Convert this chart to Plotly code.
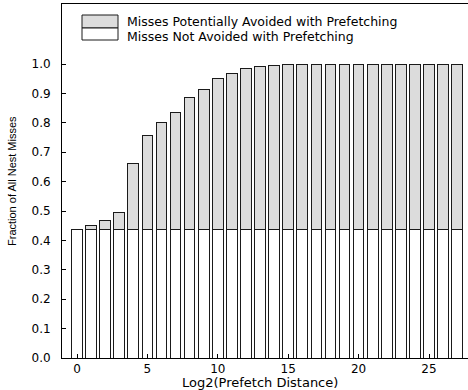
import plotly.graph_objects as go

# ---- data ----
distance = list(range(28))
not_avoided = [0.437, 0.437, 0.437, 0.437, 0.437, 0.437, 0.437, 0.437, 0.437, 0.437,
               0.437, 0.437, 0.437, 0.437, 0.437, 0.437, 0.437, 0.437, 0.437, 0.437,
               0.437, 0.437, 0.437, 0.437, 0.437, 0.437, 0.437, 0.437]
avoided = [0.001, 0.014, 0.031, 0.059, 0.225, 0.320, 0.365, 0.399, 0.450, 0.477,
           0.515, 0.530, 0.548, 0.556, 0.559, 0.561, 0.562, 0.563, 0.563, 0.563,
           0.563, 0.563, 0.563, 0.563, 0.563, 0.563, 0.563, 0.563]
y_ticks = [0.0, 0.1, 0.2, 0.3, 0.4, 0.5, 0.6, 0.7, 0.8, 0.9, 1.0]
x_ticks = [0, 5, 10, 15, 20, 25]
legend_labels = ["Misses Potentially Avoided with Prefetching",
                 "Misses Not Avoided with Prefetching"]

W, H = 468, 390
ML, MR, MT, MB = 62, 0, 4, 32
PW, PH = W - ML - MR, H - MT - MB


def px(x):
    return (x - ML) / PW


def py(y):
    return (H - MB - y) / PH


FONT = "DejaVu Sans, Verdana, Arial, sans-serif"
GRAY = "#dcdcdc"
EDGE = "#1a1a1a"

fig = go.Figure()
fig.add_trace(go.Bar(x=distance, y=not_avoided, name=legend_labels[1],
                     marker=dict(color="white", line=dict(color=EDGE, width=1)),
                     width=0.76, showlegend=False))
fig.add_trace(go.Bar(x=distance, y=avoided, name=legend_labels[0],
                     marker=dict(color=GRAY, line=dict(color=EDGE, width=1)),
                     width=0.76, showlegend=False))

shapes = [
    dict(type="rect", xref="paper", yref="paper", x0=px(82), x1=px(118), y0=py(28), y1=py(15),
         fillcolor=GRAY, line=dict(color=EDGE, width=1)),
    dict(type="rect", xref="paper", yref="paper", x0=px(82), x1=px(118), y0=py(40), y1=py(28),
         fillcolor="white", line=dict(color=EDGE, width=1)),
]
annotations = [
    dict(text=legend_labels[0], xref="paper", yref="paper", x=px(125), y=py(22),
         xanchor="left", yanchor="middle", showarrow=False, font=dict(family=FONT, size=12.5, color="black")),
    dict(text=legend_labels[1], xref="paper", yref="paper", x=px(125), y=py(36.5),
         xanchor="left", yanchor="middle", showarrow=False, font=dict(family=FONT, size=12.5, color="black")),
    dict(text="Fraction of All Nest Misses", xref="paper", yref="paper", x=px(12), y=py(181),
         xanchor="center", yanchor="middle", textangle=-90, showarrow=False,
         font=dict(family="Liberation Sans Narrow, Arial Narrow, sans-serif", size=11, color="black")),
    dict(text="Log2(Prefetch Distance)", xref="paper", yref="paper", x=px(260), y=py(382),
         xanchor="center", yanchor="middle", showarrow=False,
         font=dict(family=FONT, size=13, color="black")),
]

fig.update_layout(
    width=W, height=H, barmode="stack",
    margin=dict(l=ML, r=MR, t=MT, b=MB, autoexpand=False),
    paper_bgcolor="white", plot_bgcolor="white",
    shapes=shapes, annotations=annotations,
    font=dict(family=FONT, size=12, color="black"),
)
fig.update_xaxes(range=[(ML - 77) / 14.08, (W - MR - 77) / 14.08], tickvals=x_ticks,
                 ticks="inside", ticklen=4, tickcolor="black", showgrid=False, zeroline=False,
                 showline=True, linecolor="black", linewidth=1, mirror=True,
                 ticklabelstandoff=0,
                 tickfont=dict(family=FONT, size=12, color="black"))
fig.update_yaxes(range=[0, PH / 294], tickvals=y_ticks, tickformat=".1f",
                 ticks="inside", ticklen=4, tickcolor="black", showgrid=False, zeroline=False,
                 showline=True, linecolor="black", linewidth=1,
                 ticklabelstandoff=8,
                 tickfont=dict(family=FONT, size=12, color="black"))

fig.write_html("out.html", config={"displayModeBar": False},
               post_script="document.body.style.margin='0';document.body.style.overflow='hidden';")
